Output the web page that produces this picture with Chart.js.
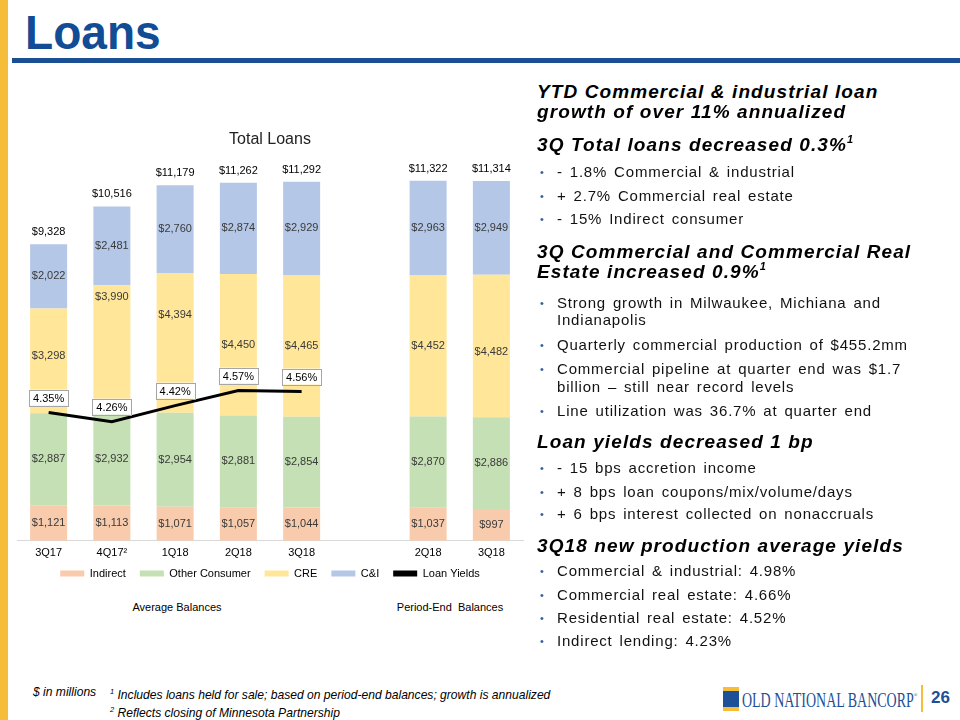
<!DOCTYPE html>
<html>
<head>
<meta charset="utf-8">
<script src="https://cdn.jsdelivr.net/npm/chart.js@4.4.0/dist/chart.umd.min.js"></script>
<style>
body{margin:0;width:960px;height:720px;position:relative;overflow:hidden;background:#fff;font-family:"Liberation Sans",Arial,sans-serif;color:#000;}
.abs{position:absolute;white-space:nowrap;}
.h{position:absolute;left:537px;font-size:19px;line-height:20px;font-weight:bold;font-style:italic;letter-spacing:1.1px;white-space:nowrap;}
.b{position:absolute;left:557px;font-size:15px;line-height:20px;word-spacing:2px;letter-spacing:0.8px;white-space:nowrap;color:#111;}
.b.dot:before{content:"\2022";position:absolute;left:-17px;top:0;color:#2f5f9e;font-size:11px;}
.h sup{font-size:11px;vertical-align:8px;line-height:0;}
.foot{position:absolute;white-space:nowrap;font-family:'Liberation Sans Narrow','Liberation Sans',Arial;font-style:italic;font-size:13px;line-height:16px;transform:scaleX(0.93);transform-origin:left top;}
#wrap{position:absolute;left:0;top:118px;width:540px;height:483px;}
</style>
</head>
<body>
<div class="abs" style="left:0;top:0;width:8px;height:720px;background:#f5bd3a;"></div>
<div class="abs" style="left:25px;top:8px;font-size:49px;line-height:49px;font-weight:bold;color:#124c95;transform:scaleX(0.94);transform-origin:left top;">Loans</div>
<div class="abs" style="left:12px;top:58px;width:948px;height:5px;background:#1b4f93;"></div>

<div id="wrap"><canvas id="chart"></canvas></div>
<div class="abs" style="left:117px;top:601px;width:120px;text-align:center;font-size:11px;">Average Balances</div>
<div class="abs" style="left:390px;top:601px;width:120px;text-align:center;font-size:11px;">Period-End&nbsp; Balances</div>

<div class="h" style="top:82px;">YTD Commercial &amp; industrial loan</div>
<div class="h" style="top:102px;">growth of over 11% annualized</div>
<div class="h" style="top:135px;">3Q Total loans decreased 0.3%<sup>1</sup></div>
<div class="b dot" style="top:162px;">- 1.8% Commercial &amp; industrial</div>
<div class="b dot" style="top:186px;">+ 2.7% Commercial real estate</div>
<div class="b dot" style="top:209px;">- 15% Indirect consumer</div>
<div class="h" style="top:242px;">3Q Commercial and Commercial Real</div>
<div class="h" style="top:262px;">Estate increased 0.9%<sup>1</sup></div>
<div class="b dot" style="top:293px;">Strong growth in Milwaukee, Michiana and</div>
<div class="b" style="top:310px;">Indianapolis</div>
<div class="b dot" style="top:335px;">Quarterly commercial production of $455.2mm</div>
<div class="b dot" style="top:359px;">Commercial pipeline at quarter end was $1.7</div>
<div class="b" style="top:377px;">billion – still near record levels</div>
<div class="b dot" style="top:401px;">Line utilization was 36.7% at quarter end</div>
<div class="h" style="top:432px;">Loan yields decreased 1 bp</div>
<div class="b dot" style="top:458px;">- 15 bps accretion income</div>
<div class="b dot" style="top:482px;">+ 8 bps loan coupons/mix/volume/days</div>
<div class="b dot" style="top:504px;">+ 6 bps interest collected on nonaccruals</div>
<div class="h" style="top:536px;">3Q18 new production average yields</div>
<div class="b dot" style="top:561px;">Commercial &amp; industrial: 4.98%</div>
<div class="b dot" style="top:585px;">Commercial real estate: 4.66%</div>
<div class="b dot" style="top:608px;">Residential real estate: 4.52%</div>
<div class="b dot" style="top:631px;">Indirect lending: 4.23%</div>

<div class="foot" style="left:33px;top:684px;">$ in millions</div>
<div class="foot" style="left:110px;top:684px;"><sup style="font-size:8px;">1</sup> Includes loans held for sale; based on period-end balances; growth is annualized</div>
<div class="foot" style="left:110px;top:702px;"><sup style="font-size:8px;">2</sup> Reflects closing of Minnesota Partnership</div>

<div class="abs" style="left:723px;top:687px;width:16px;height:24px;background:#f5bd3a;"></div>
<div class="abs" style="left:723px;top:691px;width:16px;height:16px;background:#1d5096;"></div>
<div class="abs" style="left:742px;top:684px;font-family:'Liberation Serif','DejaVu Serif',serif;font-size:21px;line-height:22px;color:#1d5096;transform:scaleX(0.665);transform-origin:left top;">OLD NATIONAL BANCORP<span style="font-size:7px;vertical-align:10px;">®</span></div>
<div class="abs" style="left:921px;top:685px;width:2px;height:27px;background:#f5bd3a;"></div>
<div class="abs" style="left:931px;top:689px;font-size:17px;line-height:18px;font-weight:bold;color:#1d5096;">26</div>

<script>
// $ in millions
var quarters = ['3Q17', '4Q17\u00B2', '1Q18', '2Q18', '3Q18', '', '2Q18', '3Q18'];
var indirect = [1121, 1113, 1071, 1057, 1044, null, 1037, 997];
var otherConsumer = [2887, 2932, 2954, 2881, 2854, null, 2870, 2886];
var cre = [3298, 3990, 4394, 4450, 4465, null, 4452, 4482];
var cni = [2022, 2481, 2760, 2874, 2929, null, 2963, 2949];
var loanYields = [4.35, 4.26, 4.42, 4.57, 4.56, null, null, null];

// CRE labels that were nudged up in the original to clear the yield line
var creLabelShift = [-5, -52, -28, 0, 0, 0, 0, 6];

function money(v){
	return '$' + v.toLocaleString('en-US');
}

var labelPlugin = {
	id: 'loanLabels',
	afterLayout: function(chart){
		// legend sits tighter under the tick labels than the default padding allows
		chart.legend.top -= 12;
		chart.legend.bottom -= 12;
	},
	afterDatasetsDraw: function(chart){
		var ctx = chart.ctx;
		ctx.save();
		ctx.font = '11px "Liberation Sans", Arial, sans-serif';
		ctx.textAlign = 'center';
		ctx.textBaseline = 'middle';
		for(var d = 0; d < 4; d++){
			var meta = chart.getDatasetMeta(d);
			var data = chart.data.datasets[d].data;
			for(var i = 0; i < meta.data.length; i++){
				if(data[i] == null){
					continue;
				}
				var bar = meta.data[i];
				var y = (bar.y + bar.base) / 2;
				if(d == 2){
					y += creLabelShift[i];
				}
				ctx.fillStyle = '#3a3a3a';
				ctx.fillText(money(data[i]), bar.x, y);
			}
		}
		// totals above each stack
		var topMeta = chart.getDatasetMeta(3);
		for(var i = 0; i < topMeta.data.length; i++){
			if(cni[i] == null){
				continue;
			}
			var total = indirect[i] + otherConsumer[i] + cre[i] + cni[i];
			ctx.fillStyle = '#000';
			ctx.fillText(money(total), topMeta.data[i].x, topMeta.data[i].y - 12);
		}
		// yield boxes
		var lineMeta = chart.getDatasetMeta(4);
		for(var i = 0; i < lineMeta.data.length; i++){
			if(loanYields[i] == null){
				continue;
			}
			var pt = lineMeta.data[i];
			var txt = loanYields[i].toFixed(2) + '%';
			var w = ctx.measureText(txt).width + 8;
			var bx = pt.x - w / 2;
			var by = pt.y - 15 - 8;
			ctx.fillStyle = '#fff';
			ctx.fillRect(bx, by, w, 16);
			ctx.strokeStyle = '#a6a6a6';
			ctx.lineWidth = 1;
			ctx.strokeRect(Math.round(bx) + 0.5, Math.round(by) + 0.5, Math.round(w), 16);
			ctx.fillStyle = '#000';
			ctx.fillText(txt, pt.x, pt.y - 15 + 1);
		}
		ctx.restore();
	}
};

var ctx = document.getElementById('chart').getContext('2d');
var myChart = new Chart(ctx, {
	type: 'bar',
	data: {
		labels: quarters,
		datasets: [
			{label: 'Indirect', data: indirect, backgroundColor: '#f8cbad', order: 1},
			{label: 'Other Consumer', data: otherConsumer, backgroundColor: '#c5e0b4', order: 1},
			{label: 'CRE', data: cre, backgroundColor: '#ffe699', order: 1},
			{label: 'C&I', data: cni, backgroundColor: '#b4c7e7', order: 1},
			{label: 'Loan Yields', type: 'line', data: loanYields, yAxisID: 'y2',
				borderColor: '#000', backgroundColor: '#000', borderWidth: 3,
				pointRadius: 0, tension: 0, spanGaps: false, order: 0}
		]
	},
	options: {
		responsive: true,
		maintainAspectRatio: false,
		animation: false,
		layout: {padding: {left: 17, right: 17, top: 0, bottom: 0}},
		datasets: {bar: {barPercentage: 0.585, categoryPercentage: 1}},
		scales: {
			x: {
				stacked: true,
				grid: {display: false, drawTicks: false},
				border: {display: true, color: '#d9d9d9'},
				ticks: {color: '#000', font: {size: 11, family: '"Liberation Sans", Arial'}, padding: 6, maxRotation: 0, autoSkip: false}
			},
			y: {stacked: true, display: false, min: 0, max: 12190},
			y2: {display: false, min: 3.07, max: 6.94}
		},
		plugins: {
			title: {display: true, text: 'Total Loans', color: '#222',
				font: {size: 16, weight: 'normal', family: '"Liberation Sans", Arial'},
				padding: {top: 12, bottom: 4}},
			legend: {
				position: 'bottom',
				labels: {
					boxWidth: 24, boxHeight: 6, padding: 14, color: '#000',
					font: {size: 11, family: '"Liberation Sans", Arial'},
					sort: function(a, b){ return a.datasetIndex - b.datasetIndex; },
					generateLabels: function(chart){
						var items = Chart.defaults.plugins.legend.labels.generateLabels(chart);
						items.forEach(function(it){ it.lineWidth = 0; });
						return items;
					}
				}
			},
			tooltip: {enabled: false}
		}
	},
	plugins: [labelPlugin]
});
</script>
</body>
</html>
